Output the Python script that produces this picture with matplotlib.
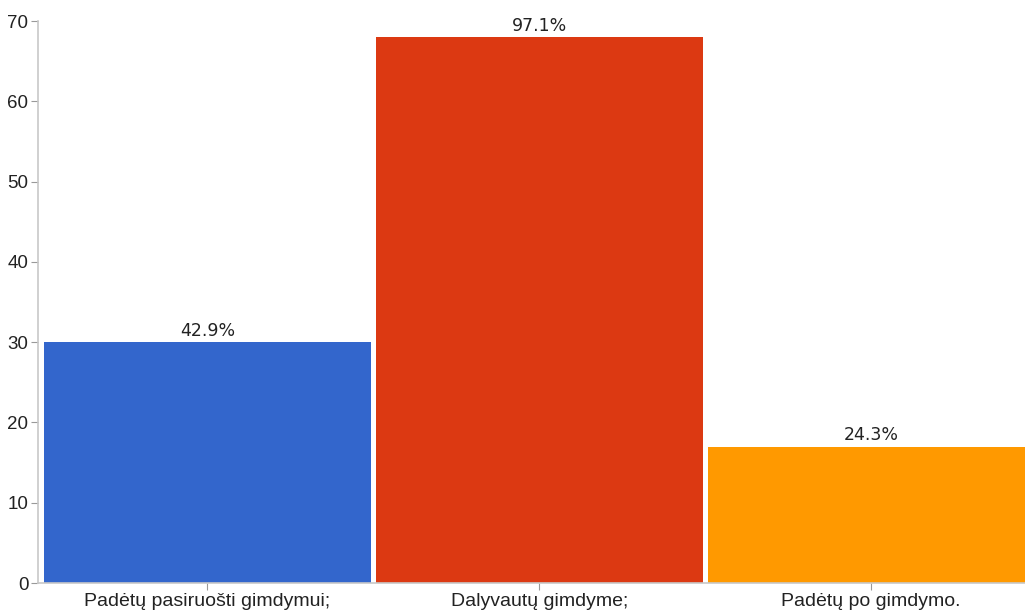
import matplotlib
matplotlib.use("Agg")
import matplotlib.pyplot as plt

categories = ["Padėtų pasiruošti gimdymui;", "Dalyvautų gimdyme;", "Padėtų po gimdymo."]
counts = [30, 68, 17]
percent_labels = ["42.9%", "97.1%", "24.3%"]
colors = ["#3366cc", "#dc3912", "#ff9900"]
y_ticks = [0, 10, 20, 30, 40, 50, 60, 70]

W, H = 1025, 611
fig = plt.figure(figsize=(W / 100, H / 100), dpi=100)
left_px, right_px, bottom_px, top_px = 38, 1037, 583, 21
ax = fig.add_axes([left_px / W, (H - bottom_px) / H,
                   (right_px - left_px) / W, (bottom_px - top_px) / H])

x = list(range(len(categories)))
bars = ax.bar(x, counts, width=0.985, color=colors, edgecolor="none", zorder=2)

for rect, lab in zip(bars, percent_labels):
    ax.text(rect.get_x() + rect.get_width() / 2, rect.get_height() + 0.3, lab,
            ha="center", va="bottom", fontsize=12.5, color="#222222",
            family="DejaVu Sans")

ax.set_xlim(-0.51, 2.5)
ax.set_ylim(0, 70)
ax.set_yticks(y_ticks)
ax.set_xticks(x)
ax.set_xticklabels(categories, fontsize=14, color="#222222", family="Liberation Sans")
for t in ax.get_yticklabels():
    t.set_fontsize(13.5)
    t.set_color("#222222")
    t.set_family("Liberation Sans")

for side in ("top", "right"):
    ax.spines[side].set_visible(False)
for side in ("left", "bottom"):
    ax.spines[side].set_color("#c8c8c8")
    ax.spines[side].set_linewidth(1.2)
ax.tick_params(axis="both", colors="#999999", length=5, width=0.8, labelcolor="#222222")
ax.tick_params(axis="x", pad=2)
ax.tick_params(axis="y", pad=2)

fig.savefig("out.png", dpi=100)
